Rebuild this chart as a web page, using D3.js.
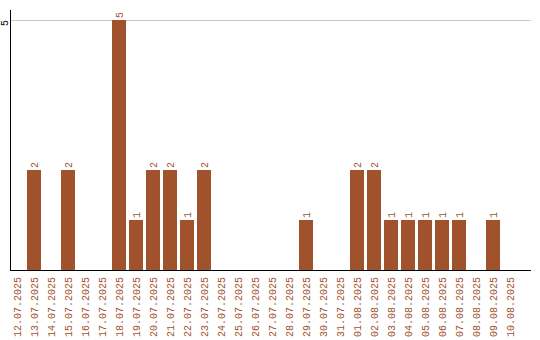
<!DOCTYPE html>
<html><head><meta charset="utf-8">
<script src="https://cdn.jsdelivr.net/npm/d3@7"></script>
<style>body{margin:0;background:#fff}svg{display:block}</style>
</head><body>
<script>
const categories = ["12.07.2025","13.07.2025","14.07.2025","15.07.2025","16.07.2025","17.07.2025","18.07.2025","19.07.2025","20.07.2025","21.07.2025","22.07.2025","23.07.2025","24.07.2025","25.07.2025","26.07.2025","27.07.2025","28.07.2025","29.07.2025","30.07.2025","31.07.2025","01.08.2025","02.08.2025","03.08.2025","04.08.2025","05.08.2025","06.08.2025","07.08.2025","08.08.2025","09.08.2025","10.08.2025"];
const values = [0,2,0,2,0,0,5,1,2,2,1,2,0,0,0,0,0,1,0,0,2,2,1,1,1,1,1,0,1,0];
const yTicks = [5];

const W = 540, H = 340;
const color = "#A0522D";
const font = "Liberation Mono, monospace";
const svg = d3.select("body").append("svg").attr("width", W).attr("height", H);

const x = d3.scaleBand().domain(categories).range([10, 517]).paddingInner(3/17).paddingOuter(0);
const y = d3.scaleLinear().domain([0, 5]).range([270, 20]);

// gridlines
svg.selectAll(".grid").data(yTicks).enter().append("line")
  .attr("x1", 10).attr("x2", 531)
  .attr("y1", d => y(d) + 0.5).attr("y2", d => y(d) + 0.5)
  .attr("stroke", "#c8c8c8").attr("stroke-width", 1);

// bars
svg.selectAll(".bar").data(categories).enter().append("rect")
  .attr("x", d => x(d)).attr("width", x.bandwidth())
  .attr("y", (d, i) => y(values[i])).attr("height", (d, i) => y(0) - y(values[i]))
  .attr("fill", color);

// value labels
svg.selectAll(".val").data(categories.filter((d, i) => values[i] > 0)).enter().append("text")
  .attr("transform", d => `translate(${x(d) + x.bandwidth()/2},${y(values[categories.indexOf(d)]) - 2}) rotate(-90)`)
  .attr("dy", "0.35em").attr("text-anchor", "start")
  .attr("font-family", font).attr("font-size", 10).attr("fill", color)
  .text(d => values[categories.indexOf(d)]);

// axes lines
svg.append("line").attr("x1", 10.5).attr("x2", 10.5).attr("y1", 10).attr("y2", 270).attr("stroke", "#000");
svg.append("line").attr("x1", 10).attr("x2", 531).attr("y1", 270.5).attr("y2", 270.5).attr("stroke", "#000");

// y tick labels
svg.selectAll(".ytick").data(yTicks).enter().append("text")
  .attr("transform", d => `translate(4,${y(d) + 3}) rotate(-90)`)
  .attr("dy", "0.35em").attr("text-anchor", "middle")
  .attr("font-family", font).attr("font-size", 10).attr("fill", "#000")
  .text(d => d);

// x tick labels
svg.selectAll(".xtick").data(categories).enter().append("text")
  .attr("transform", d => `translate(${x(d) + x.bandwidth()/2},277) rotate(-90)`)
  .attr("dy", "0.35em").attr("text-anchor", "end")
  .attr("font-family", font).attr("font-size", 10).attr("fill", color)
  .text(d => d);
</script>
</body></html>
